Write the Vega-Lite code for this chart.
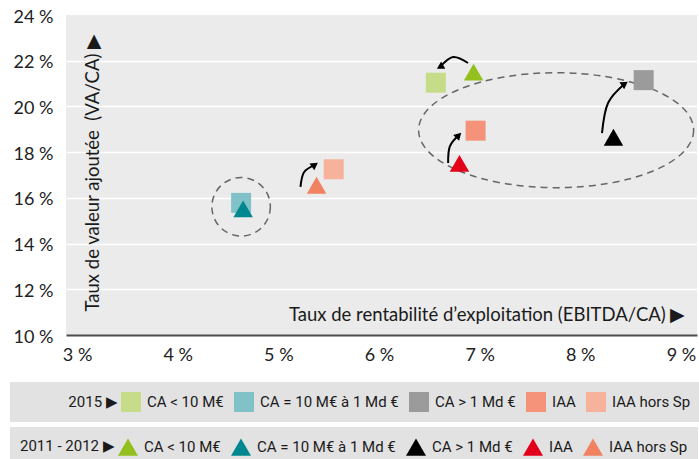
{
  "$schema": "https://vega.github.io/schema/vega-lite/v6.json",
  "width": 631,
  "height": 320,
  "autosize": {"type": "none"},
  "padding": {"left": 66, "top": 15, "right": 2, "bottom": 124},
  "background": "white",
  "config": {
    "view": {"fill": "#ebebeb", "stroke": null},
    "font": "Lato",
    "legend": {
      "orient": "none",
      "direction": "horizontal",
      "columns": 5,
      "fillColor": "#e2e2e2",
      "padding": 10,
      "titleOrient": "left",
      "titleFont": "Roboto",
      "titleFontSize": 15,
      "titleFontWeight": "normal",
      "titleColor": "#1a1a1a",
      "titlePadding": 3,
      "labelFont": "Roboto",
      "labelFontSize": 15,
      "labelColor": "#1a1a1a",
      "labelOffset": 6,
      "labelLimit": 300,
      "columnPadding": 10,
      "symbolStrokeWidth": 0,
      "symbolOpacity": 1
    }
  },
  "datasets": {
    "points2015": [
      {"categorie": "CA < 10 M€", "ebitda": 6.565, "va": 21.04},
      {"categorie": "CA = 10 M€ à 1 Md €", "ebitda": 4.63, "va": 15.78},
      {"categorie": "CA > 1 Md €", "ebitda": 8.63, "va": 21.15},
      {"categorie": "IAA", "ebitda": 6.96, "va": 18.94},
      {"categorie": "IAA hors Sp", "ebitda": 5.55, "va": 17.25}
    ],
    "points2011": [
      {"categorie": "CA < 10 M€", "ebitda": 6.94, "va": 21.5},
      {"categorie": "CA = 10 M€ à 1 Md €", "ebitda": 4.65, "va": 15.52},
      {"categorie": "CA > 1 Md €", "ebitda": 8.33, "va": 18.65},
      {"categorie": "IAA", "ebitda": 6.8, "va": 17.51},
      {"categorie": "IAA hors Sp", "ebitda": 5.38, "va": 16.55}
    ],
    "arrows": [
      {"arrow": "hors Sp", "step": 1, "ebitda": 5.22, "va": 16.48},
      {"arrow": "hors Sp", "step": 2, "ebitda": 5.255, "va": 17.12},
      {"arrow": "hors Sp", "step": 3, "ebitda": 5.363, "va": 17.446},
      {"arrow": "petites", "step": 1, "ebitda": 6.885, "va": 21.9},
      {"arrow": "petites", "step": 2, "ebitda": 6.736, "va": 22.16},
      {"arrow": "petites", "step": 3, "ebitda": 6.607, "va": 21.726},
      {"arrow": "grandes", "step": 1, "ebitda": 8.216, "va": 18.835},
      {"arrow": "grandes", "step": 2, "ebitda": 8.276, "va": 20.15},
      {"arrow": "grandes", "step": 3, "ebitda": 8.442, "va": 20.994},
      {"arrow": "IAA", "step": 1, "ebitda": 6.687, "va": 17.52},
      {"arrow": "IAA", "step": 2, "ebitda": 6.704, "va": 18.25},
      {"arrow": "IAA", "step": 3, "ebitda": 6.792, "va": 18.738}
    ],
    "arrowHeads": [
      {"arrow": "hors Sp", "ebitda": 5.363, "va": 17.446, "heading": 55},
      {"arrow": "petites", "ebitda": 6.607, "va": 21.726, "heading": 240},
      {"arrow": "grandes", "ebitda": 8.442, "va": 20.994, "heading": 55},
      {"arrow": "IAA", "ebitda": 6.792, "va": 18.738, "heading": 45}
    ],
    "groupeMoyennes": [{"ebitda": 4.63, "va": 15.61}],
    "groupeIAA": [{"ebitda": 7.76, "va": 18.96}]
  },
  "encoding": {
    "x": {
      "field": "ebitda",
      "type": "quantitative",
      "scale": {"domain": [2.89, 9.16], "nice": false, "zero": false},
      "axis": {
        "values": [3, 4, 5, 6, 7, 8, 9],
        "labelExpr": "datum.value + ' %'",
        "grid": false,
        "ticks": false,
        "domainColor": "#4d4d4d",
        "domainWidth": 2,
        "labelFontSize": 18,
        "labelColor": "#222222",
        "labelPadding": 11,
        "title": "Taux de rentabilité d’exploitation (EBITDA/CA) ▶",
        "titleFontSize": 18.5,
        "titleFontWeight": "normal",
        "titleColor": "#1a1a1a",
        "titleX": 619,
        "titleY": -21,
        "titleAlign": "right",
        "titleBaseline": "middle",
        "titleAngle": 0
      }
    },
    "y": {
      "field": "va",
      "type": "quantitative",
      "scale": {"domain": [10, 24], "nice": false, "zero": false},
      "axis": {
        "values": [10, 12, 14, 16, 18, 20, 22, 24],
        "labelExpr": "datum.value + ' %'",
        "grid": true,
        "gridColor": "white",
        "gridWidth": 1.5,
        "gridOpacity": {"condition": {"test": "datum.value === 10 || datum.value === 24", "value": 0}, "value": 1},
        "domain": false,
        "ticks": false,
        "labelFontSize": 18,
        "labelColor": "#222222",
        "labelPadding": 13,
        "labelOffset": 2,
        "title": "Taux de valeur ajoutée\u00a0\u00a0(VA/CA) ▶",
        "titleFontSize": 18.5,
        "titleFontWeight": "normal",
        "titleColor": "#1a1a1a",
        "titleX": 26,
        "titleY": 296,
        "titleAngle": 270,
        "titleAlign": "left",
        "titleBaseline": "middle"
      }
    }
  },
  "layer": [
    {
      "data": {"name": "groupeMoyennes"},
      "mark": {"type": "point", "shape": "circle", "size": 3421, "filled": false, "stroke": "#666666", "strokeWidth": 1.5, "strokeDash": [7, 5], "opacity": 1}
    },
    {
      "data": {"name": "groupeIAA"},
      "mark": {
        "type": "point",
        "shape": "M1,0C1,0.2309,0.5523,0.418,0,0.418C-0.5523,0.418,-1,0.2309,-1,0C-1,-0.2309,-0.5523,-0.418,0,-0.418C0.5523,-0.418,1,-0.2309,1,0Z",
        "size": 75625,
        "filled": false,
        "stroke": "#666666",
        "strokeWidth": 1.5,
        "strokeDash": [7, 5],
        "opacity": 1
      }
    },
    {
      "data": {"name": "points2015"},
      "mark": {"type": "point", "shape": "square", "size": 400, "filled": true, "opacity": 1},
      "encoding": {
        "color": {
          "field": "categorie",
          "type": "nominal",
          "scale": {
            "domain": ["CA < 10 M€", "CA = 10 M€ à 1 Md €", "CA > 1 Md €", "IAA", "IAA hors Sp"],
            "range": ["#c6dc88", "#80c2c8", "#9b9b9b", "#f4937a", "#f7b29b"]
          },
          "legend": {
            "title": "\u200b\u00a0\u00a0\u00a0\u00a0\u00a0\u00a0\u00a0\u00a0\u00a0\u00a0\u00a0\u00a0\u00a02015 ▶",
            "symbolType": "square",
            "symbolSize": 400,
            "legendX": -56,
            "legendY": 367
          }
        }
      }
    },
    {
      "data": {"name": "points2011"},
      "mark": {"type": "point", "shape": "triangle-up", "size": 380, "filled": true, "opacity": 1},
      "encoding": {
        "color": {
          "field": "categorie",
          "type": "nominal",
          "scale": {
            "domain": ["CA < 10 M€", "CA = 10 M€ à 1 Md €", "CA > 1 Md €", "IAA", "IAA hors Sp"],
            "range": ["#93c01f", "#00878f", "#000000", "#e2001a", "#f08262"]
          },
          "legend": {
            "title": "2011 - 2012 ▶",
            "symbolType": "triangle-up",
            "symbolSize": 400,
            "legendX": -56,
            "legendY": 412
          }
        }
      }
    },
    {
      "data": {"name": "arrows"},
      "mark": {"type": "line", "interpolate": "natural", "color": "black", "strokeWidth": 2},
      "encoding": {
        "detail": {"field": "arrow", "type": "nominal"},
        "order": {"field": "step", "type": "quantitative"}
      }
    },
    {
      "data": {"name": "arrowHeads"},
      "mark": {"type": "point", "shape": "triangle-up", "size": 70, "filled": true, "color": "black", "opacity": 1},
      "encoding": {
        "angle": {"field": "heading", "type": "quantitative", "scale": null}
      }
    }
  ],
  "resolve": {"scale": {"color": "independent"}, "legend": {"color": "independent"}}
}
